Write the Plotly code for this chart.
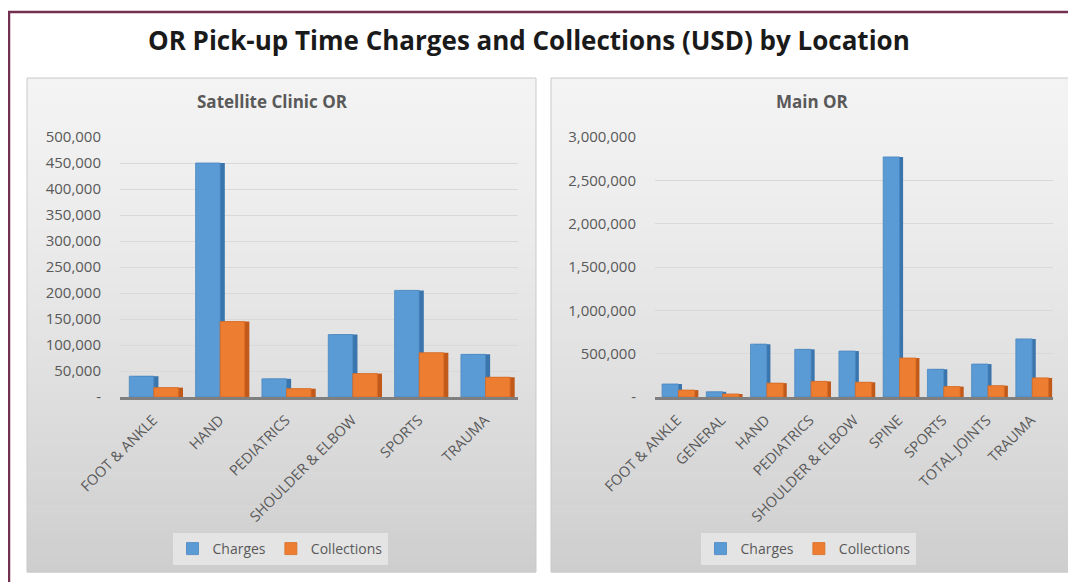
import plotly.graph_objects as go

# ---------------- data ----------------
sat_categories = ["FOOT & ANKLE", "HAND", "PEDIATRICS", "SHOULDER & ELBOW", "SPORTS", "TRAUMA"]
sat_charges = [40000, 450000, 35000, 120000, 205000, 82000]
sat_collections = [18000, 145000, 16000, 45000, 85000, 38000]

main_categories = ["FOOT & ANKLE", "GENERAL", "HAND", "PEDIATRICS", "SHOULDER & ELBOW",
                   "SPINE", "SPORTS", "TOTAL JOINTS", "TRAUMA"]
main_charges = [150000, 60000, 610000, 550000, 530000, 2770000, 320000, 380000, 670000]
main_collections = [80000, 35000, 160000, 180000, 170000, 450000, 120000, 130000, 220000]

sat_tickvals = [0, 50000, 100000, 150000, 200000, 250000, 300000, 350000, 400000, 450000, 500000]
sat_ticktext = ["-", "50,000", "100,000", "150,000", "200,000", "250,000", "300,000",
                "350,000", "400,000", "450,000", "500,000"]
main_tickvals = [0, 500000, 1000000, 1500000, 2000000, 2500000, 3000000]
main_ticktext = ["-", "500,000", "1,000,000", "1,500,000", "2,000,000", "2,500,000", "3,000,000"]

series_names = ["Charges", "Collections"]
title_text = "OR Pick-up Time Charges and Collections (USD) by Location"
panel_titles = ["Satellite Clinic OR", "Main OR"]

# ---------------- style ----------------
W, H = 1076, 582
OFF = 8  # page body margin: the figure is drawn 8px right/down in the window
FONT = "Open Sans, Lato, sans-serif"
BLUE, BLUE_SIDE = "#5b9bd5", "#3a75ad"
ORANGE, ORANGE_SIDE = "#ed7d31", "#c0591a"
TXT = "#595959"


def px(x):
    return (x - OFF) / W


def py(y):
    return 1 - (y - OFF) / H


fig = go.Figure()


def add_panel(cats, charges, collections, xa, ya, legend, off_c, off_o, wid, side):
    xaxis = "x" if xa == "" else "x" + xa
    yaxis = "y" if ya == "" else "y" + ya
    fig.add_trace(go.Bar(x=cats, y=charges, xaxis=xaxis, yaxis=yaxis, offset=off_c + side,
                         width=wid, marker=dict(color=BLUE_SIDE, line=dict(width=0)),
                         showlegend=False, hoverinfo="skip"))
    fig.add_trace(go.Bar(x=cats, y=charges, xaxis=xaxis, yaxis=yaxis, offset=off_c,
                         width=wid, name=series_names[0], legend=legend,
                         marker=dict(color=BLUE, line=dict(color="#4a86bf", width=0.8))))
    fig.add_trace(go.Bar(x=cats, y=collections, xaxis=xaxis, yaxis=yaxis, offset=off_o + side,
                         width=wid, marker=dict(color=ORANGE_SIDE, line=dict(width=0)),
                         showlegend=False, hoverinfo="skip"))
    fig.add_trace(go.Bar(x=cats, y=collections, xaxis=xaxis, yaxis=yaxis, offset=off_o,
                         width=wid, name=series_names[1], legend=legend,
                         marker=dict(color=ORANGE, line=dict(color="#d86c24", width=0.8))))


add_panel(sat_categories, sat_charges, sat_collections, "", "", "legend",
          -0.36, 0.01, 0.37, 0.07)
add_panel(main_categories, main_charges, main_collections, "2", "2", "legend2",
          -0.34, 0.03, 0.37, 0.08)

# ---------------- panel backgrounds (gradient bands) ----------------
shapes = []
panels = [(27, 78, 536, 572), (551, 78, 1073, 572)]
n = 60
for (x0, y0, x1, y1) in panels:
    for i in range(n):
        t = i / (n - 1)
        g = int(round(243 - (243 - 206) * (t ** 1.3)))
        ya0 = y0 + (y1 - y0) * i / n
        ya1 = y0 + (y1 - y0) * (i + 1) / n + 0.6
        shapes.append(dict(type="rect", xref="paper", yref="paper", layer="below",
                           x0=px(x0), x1=px(x1), y0=py(ya1), y1=py(ya0),
                           line=dict(width=0), fillcolor=f"rgb({g},{g},{g})"))
    shapes.append(dict(type="rect", xref="paper", yref="paper", layer="below",
                       x0=px(x0), x1=px(x1), y0=py(y1), y1=py(y0),
                       line=dict(color="#c9c9c9", width=1), fillcolor="rgba(0,0,0,0)"))

shapes.append(dict(type="rect", xref="paper", yref="paper", layer="above",
                   x0=px(9), x1=px(1100), y0=py(620), y1=py(12),
                   line=dict(color="#74314f", width=2.5), fillcolor="rgba(0,0,0,0)"))

axis_common = dict(showgrid=False, tickangle=-45, tickfont=dict(family=FONT, size=14.5, color=TXT),
                   showline=True, linecolor="#7f7f7f", linewidth=3, ticks="", fixedrange=True,
                   automargin=False, ticklabelstandoff=6)
yaxis_common = dict(showgrid=True, gridcolor="#d9d9d9", gridwidth=1, zeroline=False,
                    tickfont=dict(family=FONT, size=15, color=TXT), ticks="", showline=False,
                    ticklabelstandoff=18, fixedrange=True, automargin=False)

legend_common = dict(orientation="h", xanchor="center", yanchor="middle",
                     font=dict(family=FONT, size=14, color=TXT), bgcolor="rgba(236,236,236,0.7)",
                     traceorder="normal", itemwidth=30)

fig.update_layout(
    width=W, height=H, autosize=False,
    margin=dict(l=0, r=0, t=0, b=0, pad=0, autoexpand=False),
    paper_bgcolor="white", plot_bgcolor="rgba(0,0,0,0)",
    barmode="overlay",
    shapes=shapes,
    xaxis=dict(domain=[px(120), px(518)], anchor="y", range=[-0.5, 5.5], **axis_common),
    yaxis=dict(domain=[py(397), py(137)], anchor="x", range=[0, 500000],
               tickvals=sat_tickvals, ticktext=sat_ticktext, **yaxis_common),
    xaxis2=dict(domain=[px(655), px(1053)], anchor="y2", range=[-0.5, 8.5], **axis_common),
    yaxis2=dict(domain=[py(397), py(137)], anchor="x2", range=[0, 3000000],
                tickvals=main_tickvals, ticktext=main_ticktext, **yaxis_common),
    legend=dict(x=px(280), y=py(549), **legend_common),
    legend2=dict(x=px(808), y=py(549), **legend_common),
    annotations=[
        dict(text=f"<b>{title_text}</b>", xref="paper", yref="paper", x=px(529), y=py(40),
             xanchor="center", yanchor="middle", showarrow=False,
             font=dict(family=FONT, size=26, color="#1a1a1a")),
        dict(text=f"<b>{panel_titles[0]}</b>", xref="paper", yref="paper", x=px(272), y=py(102),
             xanchor="center", yanchor="middle", showarrow=False,
             font=dict(family=FONT, size=17, color=TXT)),
        dict(text=f"<b>{panel_titles[1]}</b>", xref="paper", yref="paper", x=px(812), y=py(102),
             xanchor="center", yanchor="middle", showarrow=False,
             font=dict(family=FONT, size=17, color=TXT)),
    ],
)

fig.write_html("out.html")
